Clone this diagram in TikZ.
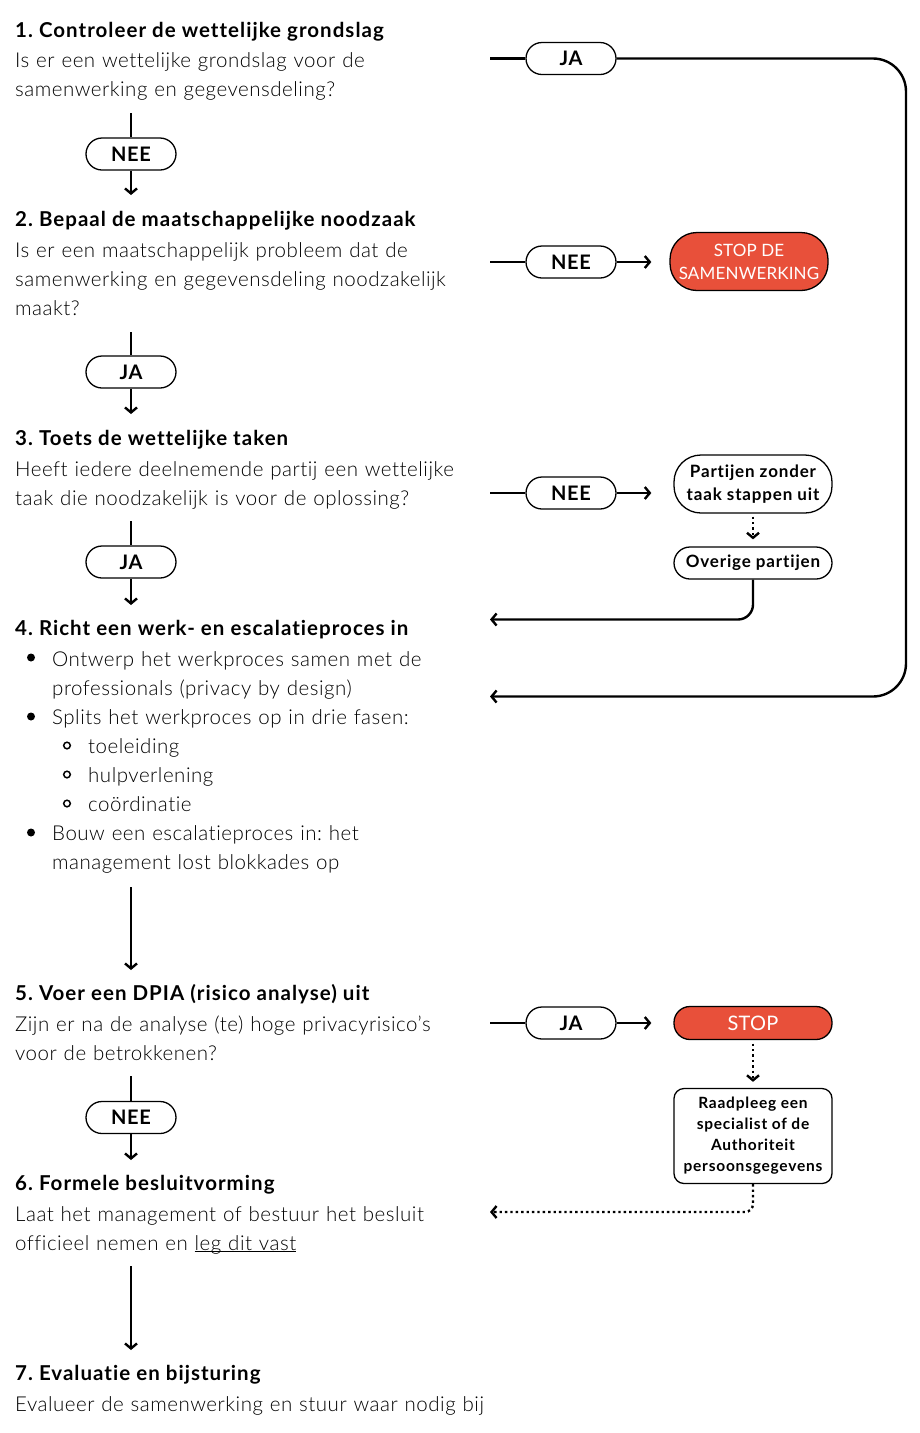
\documentclass[tikz,border=0pt]{standalone}
\usepackage{fontspec}
\setmainfont{Lato}[UprightFont=* Light, BoldFont=* Bold, Ligatures=NoCommon, LetterSpace=2.5]
\newfontfamily\headfont{Lato}[UprightFont=* Bold, Ligatures=NoCommon, LetterSpace=5]
\newfontfamily\boxfont{Lato}[UprightFont=* Bold, Ligatures=NoCommon, LetterSpace=5]
\newfontfamily\pillfont{Lato}[UprightFont=* Bold, Ligatures=NoCommon, LetterSpace=3]
\newfontfamily\redfont{Lato}[Ligatures=NoCommon, LetterSpace=1]
\frenchspacing
\usetikzlibrary{arrows.meta}
\definecolor{stopred}{RGB}{232,80,58}
\newcommand\myul[1]{\setbox0\hbox{#1}\rlap{\rule[-1.8pt]{\wd0}{1pt}}\box0}
\tikzset{
  conn/.style={line width=2.4pt, draw=black},
  arr/.style={conn, -{Straight Barb[length=5pt,width=12pt]}},
  dotarr/.style={arr, dash pattern=on 2.4pt off 3pt},
  pill/.style={draw, line width=1.3pt, rounded corners=16pt, minimum width=90pt,
    minimum height=32pt, inner sep=0pt, fill=white, font=\pillfont\fontsize{20}{24}\selectfont},
  sidebox/.style={draw, line width=1.3pt, minimum width=158pt, inner sep=0pt, align=center,
    font=\boxfont\fontsize{17}{23}\selectfont},
  redbox/.style={sidebox, fill=stopred, text=white, font=\redfont\fontsize{17}{23}\selectfont},
  head/.style={anchor=base west, inner sep=0pt, font=\headfont\fontsize{20.5}{29}\selectfont},
  body/.style={anchor=base west, inner sep=0pt, text width=480pt, align=left,
    font=\fontsize{20.5}{29}\selectfont},
}
\begin{document}
\begin{tikzpicture}[x=1pt,y=-1pt]
\useasboundingbox (0,0) rectangle (920,1433);

% ---------- step 1
\node[head] (h1) at (15,37) {1. Controleer de wettelijke grondslag};
\node[body] (b1) at (15,67.5) {Is er een wettelijke grondslag voor de\\samenwerking en gegevensdeling?};
\coordinate (c1a) at (131,113);
\node[pill] (p1) at (131,154) {NEE};
\coordinate (c1b) at (131,195);
\draw[conn] (c1a) -- (p1.north);
\draw[arr] (p1.south) -- (c1b);

% ---------- step 2
\node[head] (h2) at (15,226) {2. Bepaal de maatschappelijke noodzaak};
\node[body] (b2) at (15,257.5) {Is er een maatschappelijk probleem dat de\\samenwerking en gegevensdeling noodzakelijk\\maakt?};
\coordinate (c2a) at (131,332);
\node[pill] (p2) at (131,372) {JA};
\coordinate (c2b) at (131,414);
\draw[conn] (c2a) -- (p2.north);
\draw[arr] (p2.south) -- (c2b);

% ---------- step 3
\node[head] (h3) at (15,445) {3. Toets de wettelijke taken};
\node[body] (b3) at (15,476.5) {Heeft iedere deelnemende partij een wettelijke\\taak die noodzakelijk is voor de oplossing?};
\coordinate (c3a) at (131,521);
\node[pill] (p3) at (131,562) {JA};
\coordinate (c3b) at (131,605);
\draw[conn] (c3a) -- (p3.north);
\draw[arr] (p3.south) -- (c3b);

% ---------- step 4
\node[head] (h4) at (15,635) {4. Richt een werk- en escalatieproces in};
\fill (31,657.5) circle (4pt);
\fill (31,716.5) circle (4pt);
\fill (31,832.5) circle (4pt);
\draw[line width=1.5pt] (67,745.5) circle (3.3pt);
\draw[line width=1.5pt] (67,774.5) circle (3.3pt);
\draw[line width=1.5pt] (67,803.5) circle (3.3pt);
\node[body] (i1) at (52,666.5) {Ontwerp het werkproces samen met de\\professionals (privacy by design)};
\node[body] (i2) at (52,724.5) {Splits het werkproces op in drie fasen:};
\node[body] (s1) at (88,753.5) {toeleiding};
\node[body] (s2) at (88,782.5) {hulpverlening};
\node[body] (s3) at (88,811.5) {coördinatie};
\node[body] (i3) at (52,840.5) {Bouw een escalatieproces in: het\\management lost blokkades op};
\coordinate (c4a) at (131,887);
\coordinate (c4b) at (131,970);
\draw[arr] (c4a) -- (c4b);

% ---------- step 5
\node[head] (h5) at (15,1000) {5. Voer een DPIA (risico analyse) uit};
\node[body] (b5) at (15,1031.5) {Zijn er na de analyse (te) hoge privacyrisico’s\\voor de betrokkenen?};
\coordinate (c5a) at (131,1076);
\node[pill] (p5) at (131,1117.5) {NEE};
\coordinate (c5b) at (131,1160);
\draw[conn] (c5a) -- (p5.north);
\draw[arr] (p5.south) -- (c5b);

% ---------- step 6
\node[head] (h6) at (15,1190) {6. Formele besluitvorming};
\node[body] (b6) at (15,1221.5) {Laat het management of bestuur het besluit\\officieel nemen en \myul{leg dit vast}};
\coordinate (c6a) at (131,1266);
\coordinate (c6b) at (131,1350);
\draw[arr] (c6a) -- (c6b);

% ---------- step 7
\node[head] (h7) at (15,1380) {7. Evaluatie en bijsturing};
\node[body] (b7) at (15,1411.5) {Evalueer de samenwerking en stuur waar nodig bij};

% ---------- right side: row 1
\coordinate (r1) at (490,58.5);
\node[pill] (q1) at (571,58.5) {JA};
\coordinate (k1) at (906,58.5);
\coordinate (k2) at (906,696.5);
\coordinate (e1) at (490,696.5);
\draw[conn] (r1) -- (q1.west);
\draw[arr, rounded corners=33pt] (q1.east) -- (k1) -- (k2) -- (e1);

% row 2
\coordinate (r2) at (490,262);
\node[pill] (q2) at (571,262) {NEE};
\node[redbox, minimum height=58pt, rounded corners=27pt] (stop1) at (749,261.5) {STOP DE\\SAMENWERKING};
\draw[conn] (r2) -- (q2.west);
\draw[arr, shorten >=18pt] (q2.east) -- (q2.east -| stop1.west);

% row 3
\coordinate (r3) at (490,493);
\node[pill] (q3) at (571,493) {NEE};
\node[sidebox, minimum height=58pt, rounded corners=27pt] (part) at (753,484) {Partijen zonder\\taak stappen uit};
\node[sidebox, minimum height=32pt, rounded corners=16pt] (over) at (753,563) {Overige partijen};
\coordinate (k3) at (753,619.5);
\coordinate (e3) at (490,619.5);
\draw[conn] (r3) -- (q3.west);
\draw[arr, shorten >=22pt] (q3.east) -- (q3.east -| part.west);
\draw[dotarr, shorten <=3pt, shorten >=7pt] (part.south) -- (over.north);
\draw[arr, rounded corners=15pt] (over.south) -- (k3) -- (e3);

% row 5
\coordinate (r5) at (490,1023);
\node[pill] (q5) at (571,1023) {JA};
\node[redbox, minimum height=33pt, rounded corners=16pt, font=\redfont\fontsize{20}{24}\selectfont] (stop2) at (753,1023) {STOP};
\node[sidebox, minimum height=95pt, rounded corners=10pt, font=\boxfont\fontsize{15.5}{21}\selectfont] (rp) at (753,1136) {Raadpleeg een\\specialist of de\\Authoriteit\\persoonsgegevens};
\coordinate (k5) at (753,1212);
\coordinate (e5) at (490,1212);
\draw[conn] (r5) -- (q5.west);
\draw[arr, shorten >=22pt] (q5.east) -- (q5.east -| stop2.west);
\draw[dotarr, shorten <=3.5pt, shorten >=6pt] (stop2.south) -- (rp.north);
\draw[dotarr, rounded corners=8pt] (rp.south) -- (k5) -- (e5);
\end{tikzpicture}
\end{document}
